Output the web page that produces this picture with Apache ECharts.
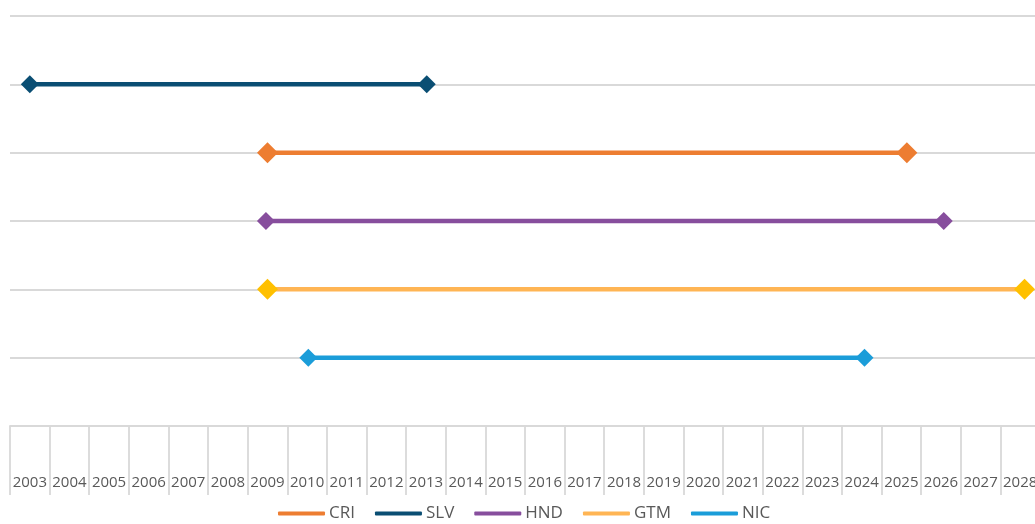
<!DOCTYPE html>
<html>
<head>
<meta charset="utf-8">
<script src="https://cdn.jsdelivr.net/npm/echarts@6/dist/echarts.min.js"></script>
<style>
html,body{margin:0;padding:0;background:#fff;overflow:hidden;}
#chart{width:1045px;height:524px;}
</style>
</head>
<body>
<div id="chart"></div>
<script>
// Tick labels (years)
const years = ['2003','2004','2005','2006','2007','2008','2009','2010','2011','2012','2013','2014','2015','2016','2017','2018','2019','2020','2021','2022','2023','2024','2025','2026','2027','2028'];
// Series names in legend order
const seriesNames = ['CRI','SLV','HND','GTM','NIC'];
// Row (vertical position value) per series
const rows = [4, 5, 3, 2, 1];
// Start and end (fractional years) per series
const startYears = [2009.0, 2003.0, 2008.96, 2009.0, 2010.03];
const endYears   = [2025.14, 2013.02, 2026.07, 2028.11, 2024.07];

const lineColors   = ['#ED7D31','#0A4E73','#874E9D','#FFB554','#1B9DD9'];
const markerColors = ['#ED7D31','#0A4E73','#874E9D','#FFC000','#1B9DD9'];
const markerSizes  = [21, 18, 18, 21, 18];

const chart = echarts.init(document.getElementById('chart'), null, {renderer:'canvas'});

const series = seriesNames.map((n, i) => ({
  name: n,
  type: 'line',
  xAxisIndex: 1,
  yAxisIndex: 0,
  data: [[startYears[i], rows[i]], [endYears[i], rows[i]]],
  symbol: 'diamond',
  symbolSize: markerSizes[i],
  showSymbol: true,
  lineStyle: {color: lineColors[i], width: 4.5},
  itemStyle: {color: markerColors[i]},
  emphasis: {disabled: true},
  z: 3
}));

chart.setOption({
  animation: false,
  backgroundColor: '#ffffff',
  grid: {left: 10, top: 16, width: 1030, height: 410, containLabel: false},
  legend: {
    left: 278,
    top: 505,
    padding: 0,
    icon: 'roundRect',
    itemWidth: 47,
    itemHeight: 4,
    itemGap: 20,
    textStyle: {color: '#595959', fontSize: 17, fontFamily: 'Open Sans', padding: [0,0,0,-1]},
    data: seriesNames.map((n, i) => ({name: n, itemStyle: {color: lineColors[i]}}))
  },
  xAxis: [
    {
      type: 'category',
      data: years,
      boundaryGap: true,
      axisLine: {show: true, lineStyle: {color: '#d9d9d9', width: 1.8}},
      axisTick: {show: true, interval: 0, length: 69, lineStyle: {color: '#d9d9d9', width: 1.8}},
      axisLabel: {interval: 0, margin: 49, color: '#595959', fontSize: 15, fontFamily: 'Open Sans'},
      splitLine: {show: false}
    },
    {
      type: 'value',
      min: 2002.5,
      max: 2028.5,
      show: false,
      splitLine: {show: false}
    }
  ],
  yAxis: {
    type: 'value',
    min: 0,
    max: 6,
    interval: 1,
    axisLine: {show: false},
    axisTick: {show: false},
    axisLabel: {show: false},
    splitLine: {show: true, lineStyle: {color: '#d9d9d9', width: 1.8}}
  },
  series: series
});
</script>
</body>
</html>
